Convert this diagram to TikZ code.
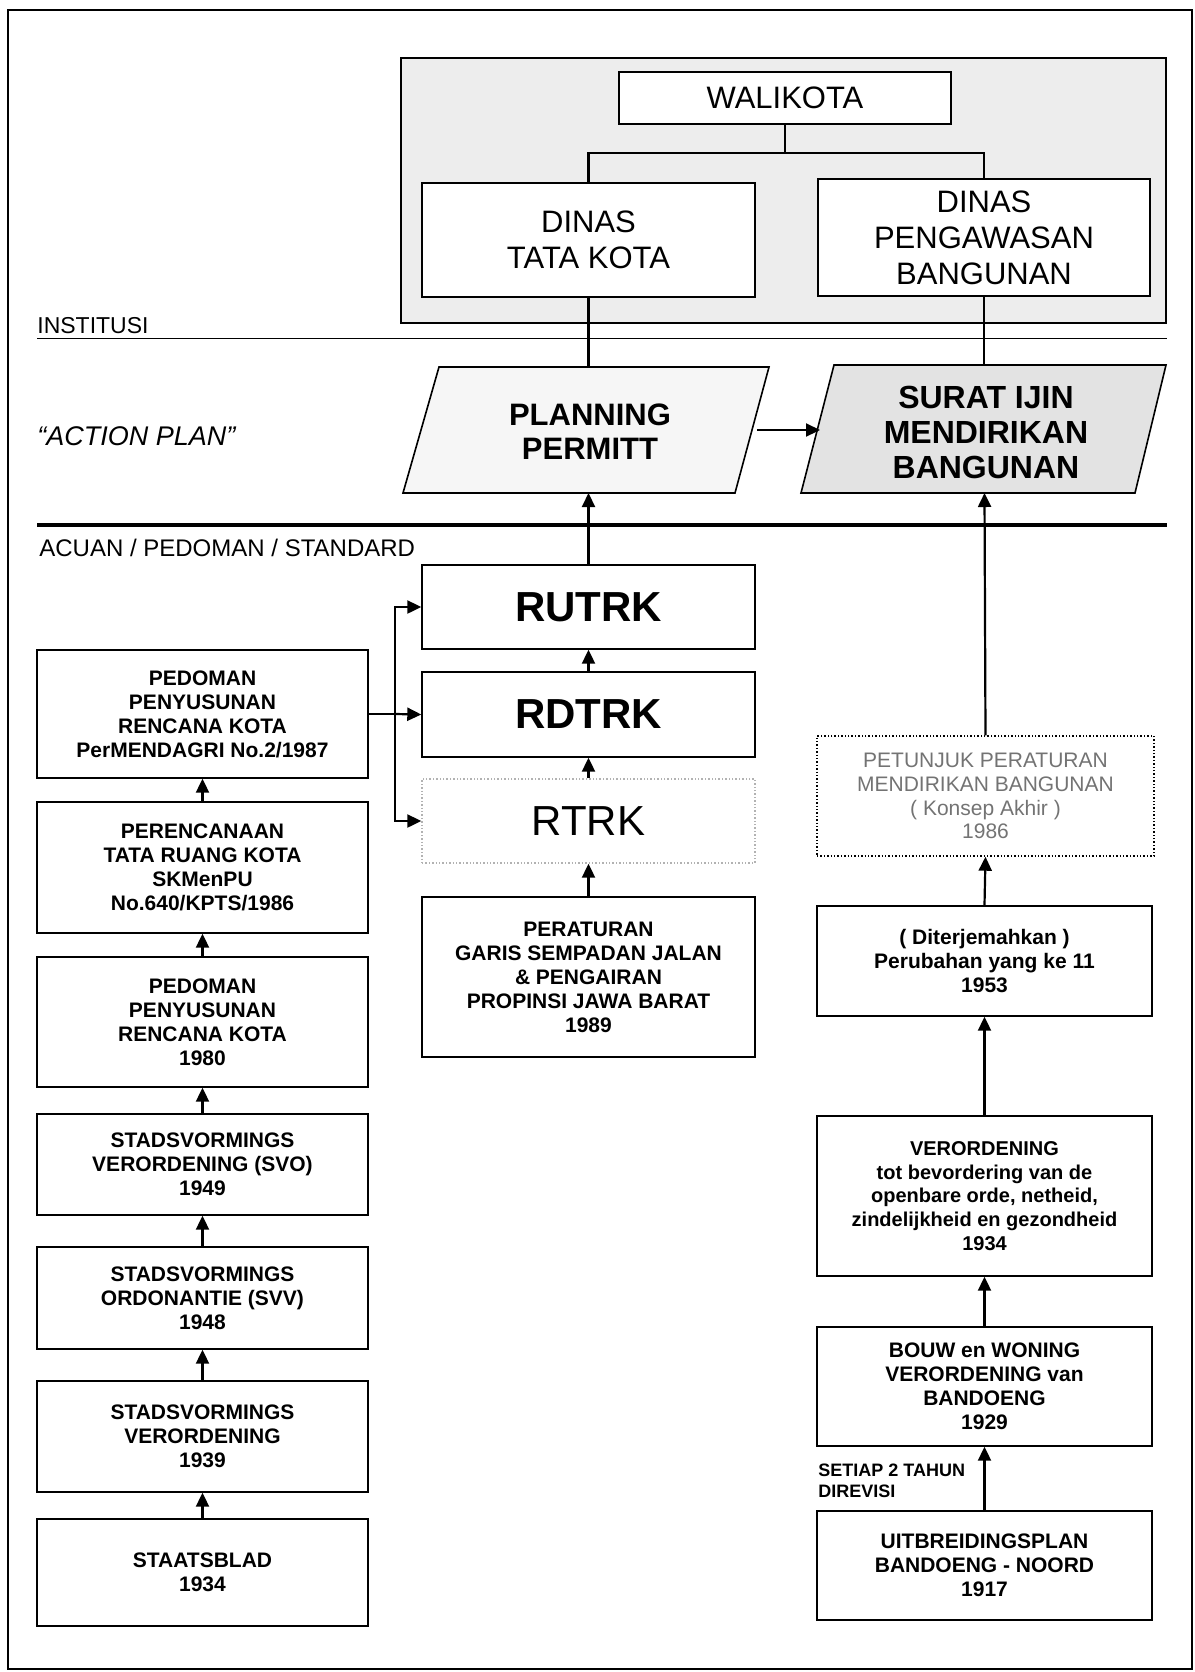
\documentclass[tikz,border=0pt]{standalone}
\usepackage{fontspec}
\setmainfont{Liberation Sans}
\usetikzlibrary{arrows.meta}
\begin{document}
\begin{tikzpicture}[x=0.5pt,y=-0.5pt,
  bx/.style={draw, line width=0.7pt, align=center, inner sep=0pt, font=\bfseries\fontsize{10.5}{12}\selectfont},
  tbx/.style={draw, fill=white, line width=0.8pt, align=center, inner sep=0pt, font=\fontsize{15.5}{18}\selectfont},
  big/.style={draw, line width=0.7pt, align=center, inner sep=0pt, font=\bfseries\fontsize{21}{24}\selectfont},
  arr/.style={-{Triangle[width=6.5pt,length=7pt]}, line width=1.1pt},
  conn/.style={line width=1.3pt},
  lab/.style={anchor=base west, inner sep=0pt, font=\fontsize{11.5}{13}\selectfont},
  lw/.style={minimum width=165.5pt},
  mw/.style={minimum width=166.5pt},
  rw/.style={minimum width=167.5pt},
]
\useasboundingbox (0,0) rectangle (1195,1672);
% outer frame
\draw[line width=1pt] (8,10) rectangle (1192,1669);

% institution block
\filldraw[fill=gray!14, line width=1pt] (401,58) rectangle (1166,323);
\node[tbx, minimum width=166pt, minimum height=26pt] (wali) at (785,98) {WALIKOTA};
\node[tbx, minimum width=166.5pt, minimum height=57pt] (dtk) at (588.5,240) {DINAS\\TATA KOTA};
\node[tbx, minimum width=166pt, minimum height=58.5pt] (dpb) at (984,237.5) {DINAS\\PENGAWASAN\\BANGUNAN};
\coordinate (j) at (785,153);
\draw[conn] (wali.south) -- (j);
\draw[conn] (dtk.north) |- (j) -| (dpb.north);

% separators and labels
\draw[line width=0.45pt] (37,338) -- (1167,338);
\draw[line width=1.6pt] (37,525) -- (1167,525);
\node[lab] (inst) at (37,333) {INSTITUSI};
\node[lab, font=\itshape\fontsize{13.5}{16}\selectfont] (act) at (37,445) {“ACTION PLAN”};
\node[lab, font=\fontsize{12}{14}\selectfont] (acu) at (39,556) {ACUAN / PEDOMAN / STANDARD};

% action plan parallelograms
\filldraw[fill=gray!7, line width=0.8pt] (403,493) -- (439,367) -- (769,367) -- (735,493) -- cycle;
\filldraw[fill=gray!22, line width=0.8pt] (801,493) -- (834,365) -- (1166,365) -- (1135,493) -- cycle;
\node[font=\bfseries\fontsize{15.5}{17}\selectfont, align=center, inner sep=0pt] (pp) at (590,432) {PLANNING\\PERMITT};
\node[font=\bfseries\fontsize{16}{17.5}\selectfont, align=center, inner sep=0pt] (si) at (986,432) {SURAT IJIN\\MENDIRIKAN\\BANGUNAN};
\coordinate (ppN) at (588.5,367);
\coordinate (ppS) at (588.5,493);
\coordinate (ppE) at (757,430);
\coordinate (siN) at (984,365);
\coordinate (siS) at (984.5,493);
\coordinate (siW) at (820,430);
\draw[conn] (dtk.south) -- (ppN);
\draw[conn] (dpb.south) -- (siN);
\draw[arr] (ppE) -- (siW);

% middle column
\node[big, mw, minimum height=42pt] (rutrk) at (588.5,607) {RUTRK};
\node[big, mw, minimum height=42.5pt] (rdtrk) at (588.5,714.5) {RDTRK};
\node[big, mw, font=\fontsize{21}{24}\selectfont, draw=gray!60, densely dotted, minimum height=42pt] (rtrk) at (588.5,821) {RTRK};
\node[bx, mw, minimum height=80pt] (per) at (588.5,977) {PERATURAN\\GARIS SEMPADAN JALAN\\\& PENGAIRAN\\PROPINSI JAWA BARAT\\1989};
\draw[arr] (rutrk.north) -- (ppS);
\draw[arr] (rdtrk.north) -- (rutrk.south);
\draw[arr] (rtrk.north) -- (rdtrk.south);
\draw[arr] (per.north) -- (rtrk.south);

% left column
\node[bx, lw, minimum height=64pt] (b1) at (202.5,714) {PEDOMAN\\PENYUSUNAN\\RENCANA KOTA\\PerMENDAGRI No.2/1987};
\node[bx, lw, minimum height=65.5pt] (b2) at (202.5,867.5) {PERENCANAAN\\TATA RUANG KOTA\\SKMenPU\\No.640/KPTS/1986};
\node[bx, lw, minimum height=65pt] (b3) at (202.5,1022) {PEDOMAN\\PENYUSUNAN\\RENCANA KOTA\\1980};
\node[bx, lw, minimum height=50.5pt] (b4) at (202.5,1164.5) {STADSVORMINGS\\VERORDENING (SVO)\\1949};
\node[bx, lw, minimum height=51pt] (b5) at (202.5,1298) {STADSVORMINGS\\ORDONANTIE (SVV)\\1948};
\node[bx, lw, minimum height=55.5pt] (b6) at (202.5,1436.5) {STADSVORMINGS\\VERORDENING\\1939};
\node[bx, lw, minimum height=53.5pt] (b7) at (202.5,1572.5) {STAATSBLAD\\1934};
\draw[arr] (b2.north) -- (b1.south);
\draw[arr] (b3.north) -- (b2.south);
\draw[arr] (b4.north) -- (b3.south);
\draw[arr] (b5.north) -- (b4.south);
\draw[arr] (b6.north) -- (b5.south);
\draw[arr] (b7.north) -- (b6.south);

% bracket to RUTRK / RDTRK / RTRK
\coordinate (brk) at (395,714);
\draw[line width=1.1pt] (b1.east) -- (brk);
\draw[arr] (brk) -- (rdtrk.west);
\draw[arr] (brk) |- (rutrk.west);
\draw[arr] (brk) |- (rtrk.west);

% right column
\node[bx, font=\fontsize{10.5}{11.9}\selectfont, text=black!55, densely dotted, minimum width=168.5pt, minimum height=60pt] (r1) at (985.5,796) {PETUNJUK PERATURAN\\MENDIRIKAN BANGUNAN\\( Konsep Akhir )\\1986};
\node[bx, rw, minimum height=55pt] (r2) at (984.5,961) {( Diterjemahkan )\\Perubahan yang ke 11\\1953};
\node[bx, rw, font=\bfseries\fontsize{10}{11.8}\selectfont, minimum height=80pt] (r3) at (984.5,1196) {VERORDENING\\tot bevordering van de\\openbare orde, netheid,\\zindelijkheid en gezondheid\\1934};
\node[bx, rw, minimum height=59.5pt] (r4) at (984.5,1386.5) {BOUW en WONING\\VERORDENING van\\BANDOENG\\1929};
\node[bx, rw, minimum height=54.5pt] (r5) at (984.5,1565.5) {UITBREIDINGSPLAN\\BANDOENG - NOORD\\1917};
\draw[arr] (r1.north) -- (siS);
\draw[arr] (r2.north) -- (r1.south);
\draw[arr] (r3.north) -- (r2.south);
\draw[arr] (r4.north) -- (r3.south);
\draw[arr] (r5.north) -- (r4.south);
\node[font=\bfseries\fontsize{9}{10.5}\selectfont, align=left, anchor=north west, inner sep=0pt] (setiap) at (818,1464) {SETIAP 2 TAHUN\\DIREVISI};
\end{tikzpicture}
\end{document}
